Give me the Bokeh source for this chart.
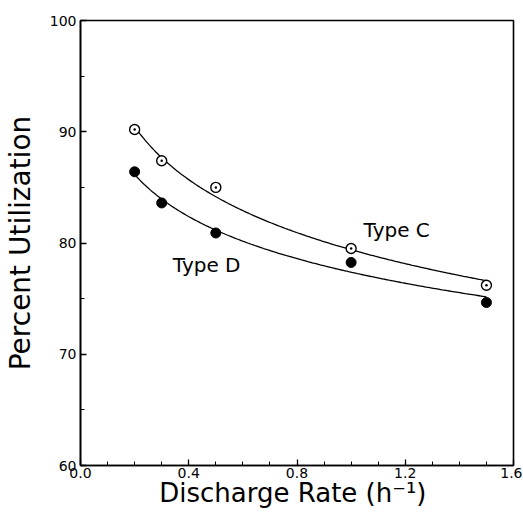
import numpy as np
from bokeh.plotting import figure
from bokeh.models import Range1d, FixedTicker, Label
from bokeh.embed import file_html
from bokeh.resources import INLINE

# Data
rate = [0.2, 0.3, 0.5, 1.0, 1.5]
type_c = [90.2, 87.4, 85.0, 79.5, 76.2]
type_d = [86.4, 83.6, 80.9, 78.25, 74.65]

x_ticks = [0.0, 0.4, 0.8, 1.2, 1.6]
y_ticks = [60, 70, 80, 90, 100]

FONT = "DejaVu Sans"

p = figure(width=522, height=511,
           min_border_left=77, min_border_right=9,
           min_border_top=20, min_border_bottom=46,
           x_range=Range1d(0.0, 1.6), y_range=Range1d(60, 100),
           output_backend="svg", toolbar_location=None)

p.xgrid.visible = False
p.ygrid.visible = False
p.outline_line_color = "black"
p.outline_line_width = 1.6
p.background_fill_color = "white"
p.border_fill_color = "white"

# log-law trend lines fitted to the measured points
xs = np.linspace(min(rate), max(rate), 200)
for ys in (type_c, type_d):
    b, a = np.polyfit(np.log(rate), ys, 1)
    p.line(xs, a + b * np.log(xs), line_color="black", line_width=1.3)

p.scatter(rate, type_d, marker="circle", size=10, fill_color="black",
          line_color="black")
p.scatter(rate, type_c, marker="circle_dot", size=10, fill_color="white",
          line_color="black", line_width=1.4)

p.add_layout(Label(x=1.046, y=81.2, text="Type C", text_font=FONT,
                   text_font_size="20px", text_color="black",
                   text_baseline="alphabetic"))
p.add_layout(Label(x=0.341, y=77.98, text="Type D", text_font=FONT,
                   text_font_size="20px", text_color="black",
                   text_baseline="alphabetic"))

for ax in (p.xaxis[0], p.yaxis[0]):
    ax.axis_line_color = "black"
    ax.axis_line_width = 1.6
    ax.major_tick_line_color = "black"
    ax.minor_tick_line_color = "black"
    ax.major_tick_line_width = 1.3
    ax.minor_tick_line_width = 1.0
    ax.major_tick_in = 6
    ax.major_tick_out = 0
    ax.minor_tick_in = 4
    ax.minor_tick_out = 0
    ax.major_label_text_font = FONT
    ax.major_label_text_font_size = "14px"
    ax.major_label_text_color = "black"
    ax.axis_label_text_font = FONT
    ax.axis_label_text_font_style = "normal"
    ax.axis_label_text_color = "black"

p.xaxis.axis_label_text_font_size = "26px"
p.yaxis.axis_label_text_font_size = "28px"

p.xaxis.ticker = FixedTicker(ticks=x_ticks,
                             minor_ticks=[round(0.1 * i, 1) for i in range(17)])
p.xaxis.major_label_overrides = {t: f"{t:.1f}" for t in x_ticks}
p.yaxis.ticker = FixedTicker(ticks=y_ticks,
                             minor_ticks=list(range(60, 101, 5)))
p.xaxis.axis_label = "Discharge Rate  (h\u207b\u00b9)"
p.yaxis.axis_label = "Percent Utilization"
p.xaxis.major_label_standoff = 2
p.xaxis.axis_label_standoff = -3
p.yaxis.major_label_standoff = 4
p.yaxis.axis_label_standoff = 10

open("out.html", "w").write(file_html(p, INLINE))
